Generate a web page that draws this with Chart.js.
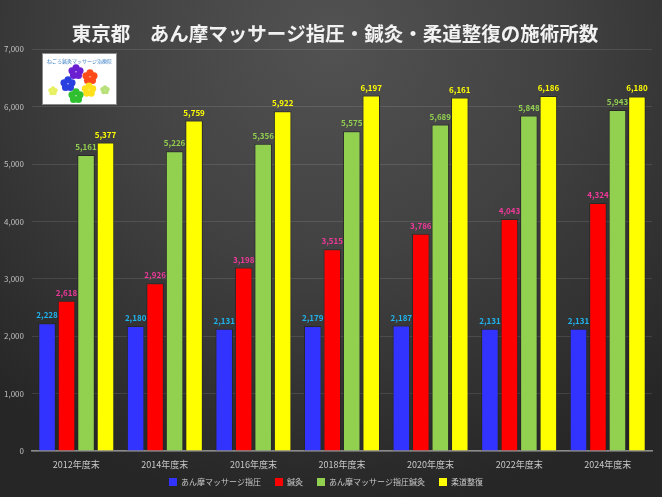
<!DOCTYPE html>
<html lang="ja">
<head>
<meta charset="utf-8">
<title>東京都 施術所数</title>
<script src="https://cdn.jsdelivr.net/npm/chart.js@4/dist/chart.umd.min.js"></script>
<style>
  html, body { margin: 0; padding: 0; }
  body {
    width: 662px; height: 497px; overflow: hidden;
    background: radial-gradient(ellipse 75% 95% at 50% 8%, #525252 0%, #424242 45%, #303030 80%, #262626 100%);
  }
  #wrap { position: relative; width: 662px; height: 497px; }
</style>
</head>
<body>
<div id="wrap"><canvas id="clinicChart"></canvas></div>
<script>
'use strict';

/* ── data ── */
const years = ['2012年度末', '2014年度末', '2016年度末', '2018年度末', '2020年度末', '2022年度末', '2024年度末'];
const anmaShiatsu   = [2228, 2180, 2131, 2179, 2187, 2131, 2131];
const hariKyu       = [2618, 2926, 3198, 3515, 3786, 4043, 4324];
const anmaHariKyu   = [5161, 5226, 5356, 5575, 5689, 5848, 5943];
const judoSeifuku   = [5377, 5759, 5922, 6197, 6161, 6186, 6180];
const yTicks = [0, 1000, 2000, 3000, 4000, 5000, 6000, 7000];

const FONT = '"Noto Sans CJK JP", "Noto Sans", sans-serif';

/* value labels above each bar */
const valueLabels = {
    id: 'valueLabels',
    afterDatasetsDraw(chart) {
        const { ctx } = chart;
        ctx.save();
        ctx.font = 'bold 8px ' + FONT;
        ctx.textAlign = 'center';
        ctx.textBaseline = 'bottom';
        chart.data.datasets.forEach((ds, i) => {
            const meta = chart.getDatasetMeta(i);
            ctx.fillStyle = ds.labelColor;
            meta.data.forEach((bar, j) => {
                ctx.fillText(ds.data[j].toLocaleString('en-US'), bar.x, bar.y - 4);
            });
        });
        ctx.restore();
    },
};

/* keep the legend box short and lift it a little, nudge the title left */
const boxTweaks = {
    id: 'boxTweaks',
    afterInit(chart) {
        const legend = chart.legend;
        if (!legend) return;
        const fit = legend.fit;
        legend.fit = function () {
            fit.call(this);
            this.height = 27;
        };
    },
    afterLayout(chart) {
        if (chart.legend) {
            chart.legend.top -= 6;
            chart.legend.bottom -= 6;
        }
        if (chart.titleBlock) {
            chart.titleBlock.left -= 7;
            chart.titleBlock.right -= 7;
        }
    },
};

/* little clinic logo in the top-left corner */
const logo = {
    id: 'logo',
    afterDraw(chart) {
        const { ctx } = chart;
        const x = 42, y = 53, w = 75, h = 52;
        ctx.save();
        ctx.fillStyle = '#ffffff';
        ctx.strokeStyle = '#8a8a8a';
        ctx.lineWidth = 1;
        ctx.fillRect(x, y, w, h);
        ctx.strokeRect(x + 0.5, y + 0.5, w - 1, h - 1);
        ctx.fillStyle = '#3a7fc4';
        ctx.font = '5px ' + FONT;
        ctx.textAlign = 'center';
        ctx.fillText('ねごろ鍼灸マッサージ治療院', x + w / 2, y + 8);
        const flower = (cx, cy, r, col) => {
            ctx.fillStyle = col;
            for (let k = 0; k < 5; k++) {
                const a = k * Math.PI * 2 / 5 - Math.PI / 2;
                ctx.beginPath();
                ctx.arc(cx + Math.cos(a) * r, cy + Math.sin(a) * r, r * 0.85, 0, Math.PI * 2);
                ctx.fill();
            }
        };
        flower(x + 34, y + 19, 4.2, '#6a1fd0');
        flower(x + 48, y + 24, 4.2, '#ff4a1a');
        flower(x + 26, y + 31, 4.2, '#2a3fe0');
        flower(x + 47, y + 37, 4.0, '#ffe01a');
        flower(x + 34, y + 43, 4.2, '#2fbf2f');
        flower(x + 11, y + 38, 2.6, '#e6f060');
        flower(x + 63, y + 37, 2.6, '#b8e07a');
        ctx.restore();
    },
};

const dataset = (label, data, color, labelColor) => ({
    label,
    data,
    backgroundColor: color,
    borderColor: 'rgba(38,38,38,0.85)',
    borderWidth: 1,
    labelColor,
    categoryPercentage: 0.88,
    barPercentage: 0.9,
});

new Chart(document.getElementById('clinicChart'), {
    type: 'bar',
    data: {
        labels: years,
        datasets: [
            dataset('あん摩マッサージ指圧', anmaShiatsu, '#3333ff', '#1fb4ee'),
            dataset('鍼灸', hariKyu, '#ff0000', '#f0399a'),
            dataset('あん摩マッサージ指圧鍼灸', anmaHariKyu, '#92d050', '#92d050'),
            dataset('柔道整復', judoSeifuku, '#ffff00', '#ffff00'),
        ],
    },
    plugins: [valueLabels, boxTweaks, logo],
    options: {
        responsive: true,
        maintainAspectRatio: false,
        animation: false,
        layout: { padding: { left: 0, right: 10, top: 0, bottom: 0 } },
        plugins: {
            title: {
                display: true,
                fullSize: false,
                text: '東京都　あん摩マッサージ指圧・鍼灸・柔道整復の施術所数',
                color: '#f2f2f2',
                font: { family: FONT, size: 19.5, weight: 'bold' },
                padding: { top: 22, bottom: 4 },
            },
            legend: {
                position: 'bottom',
                labels: {
                    color: '#c8c8c8',
                    font: { family: FONT, size: 8 },
                    boxWidth: 8,
                    boxHeight: 8,
                    padding: 14,
                    generateLabels: chart => chart.data.datasets.map((ds, i) => ({
                        text: ds.label,
                        fillStyle: ds.backgroundColor,
                        strokeStyle: ds.backgroundColor,
                        lineWidth: 0,
                        fontColor: '#c8c8c8',
                        datasetIndex: i,
                    })),
                },
            },
            tooltip: { enabled: false },
        },
        scales: {
            x: {
                grid: { display: false, drawTicks: false },
                border: { display: true, color: '#8c8c8c', width: 1.5 },
                afterFit: scale => { scale.height = 19; },
                ticks: { color: '#c8c8c8', font: { family: FONT, size: 9 }, padding: 8 },
            },
            y: {
                min: 0,
                max: 7000,
                afterBuildTicks: scale => { scale.ticks = yTicks.map(v => ({ value: v })); },
                afterFit: scale => { scale.width = 32; },
                grid: { color: 'rgba(255,255,255,0.11)', drawTicks: false },
                border: { display: false },
                ticks: {
                    color: '#c0c0c0',
                    font: { family: FONT, size: 8 },
                    padding: 8,
                    callback: v => v.toLocaleString('en-US'),
                },
            },
        },
    },
});
</script>
</body>
</html>
